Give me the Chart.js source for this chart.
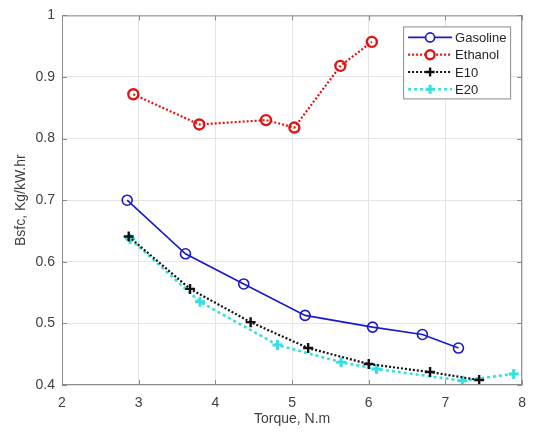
<!DOCTYPE html>
<html>
<head>
<meta charset="utf-8">
<script src="https://cdn.jsdelivr.net/npm/chart.js@4/dist/chart.umd.min.js"></script>
<style>
  html, body { margin: 0; padding: 0; background: #fff; }
  #wrap { width: 536px; height: 433px; position: relative; }
</style>
</head>
<body>
<div id="wrap"><canvas id="bsfcChart"></canvas></div>
<script>
// values
const seriesNames = ['Gasoline', 'Ethanol', 'E10', 'E20'];

const gasolineTorque = [2.85, 3.61, 4.37, 5.17, 6.05, 6.70, 7.17];
const gasolineBsfc   = [0.700, 0.613, 0.564, 0.513, 0.494, 0.482, 0.460];

const ethanolTorque = [2.93, 3.79, 4.66, 5.03, 5.63, 6.04];
const ethanolBsfc   = [0.872, 0.823, 0.830, 0.818, 0.918, 0.957];

const e10Torque = [2.87, 3.67, 4.46, 5.21, 6.00, 6.80, 7.44];
const e10Bsfc   = [0.641, 0.556, 0.502, 0.460, 0.434, 0.421, 0.408];

const e20Torque = [2.89, 3.80, 4.81, 5.64, 6.10, 7.22, 7.89];
const e20Bsfc   = [0.637, 0.535, 0.465, 0.437, 0.426, 0.407, 0.418];

const xTicks = [2, 3, 4, 5, 6, 7, 8];
const yTicks = [0.4, 0.5, 0.6, 0.7, 0.8, 0.9, 1];

function pts(xs, ys) {
  return xs.map(function(x, i) { return { x: x, y: ys[i] }; });
}

const FONT = 'Liberation Sans, Arial, sans-serif';
const AXIS_COLOR = '#8a8a8a';

// box round the plot with inward ticks (matlab style)
const boxPlugin = {
  id: 'boxPlugin',
  afterDatasetsDraw(chart) {
    const ctx = chart.ctx, a = chart.chartArea;
    const sx = chart.scales.x, sy = chart.scales.y;
    ctx.save();
    ctx.strokeStyle = AXIS_COLOR;
    ctx.lineWidth = 1;
    ctx.strokeRect(a.left + 0.5, a.top + 0.5, a.right - a.left - 1, a.bottom - a.top - 1);
    ctx.beginPath();
    xTicks.forEach(function(t) {
      const px = Math.round(sx.getPixelForValue(t)) + 0.5;
      ctx.moveTo(px, a.bottom); ctx.lineTo(px, a.bottom - 5);
      ctx.moveTo(px, a.top); ctx.lineTo(px, a.top + 5);
    });
    yTicks.forEach(function(t) {
      const py = Math.round(sy.getPixelForValue(t)) + 0.5;
      ctx.moveTo(a.left, py); ctx.lineTo(a.left + 5, py);
      ctx.moveTo(a.right, py); ctx.lineTo(a.right - 5, py);
    });
    ctx.stroke();
    ctx.restore();
  }
};

// legend box in the upper right corner
const legendPlugin = {
  id: 'legendBox',
  afterDraw(chart) {
    const ctx = chart.ctx, a = chart.chartArea;
    const bw = 107, bh = 72;
    const bx = a.right - 12 - bw, by = a.top + 11;
    ctx.save();
    ctx.fillStyle = '#fff';
    ctx.fillRect(bx, by, bw, bh);
    ctx.strokeStyle = '#8a8a8a';
    ctx.lineWidth = 1;
    ctx.strokeRect(bx + 0.5, by + 0.5, bw, bh);
    chart.data.datasets.forEach(function(ds, i) {
      const cy = by + 11 + i * 17.3;
      const x0 = bx + 5, x1 = bx + 49;
      ctx.strokeStyle = ds.borderColor;
      ctx.lineWidth = ds.borderWidth;
      ctx.setLineDash(ds.borderDash || []);
      ctx.beginPath();
      ctx.moveTo(x0, cy); ctx.lineTo(x1, cy);
      ctx.stroke();
      ctx.setLineDash([]);
      ctx.lineWidth = ds.pointBorderWidth;
      ctx.strokeStyle = ds.pointBorderColor;
      ctx.fillStyle = '#fff';
      Chart.helpers.drawPoint(ctx, {
        pointStyle: ds.pointStyle,
        radius: 4.5,
        borderWidth: ds.pointBorderWidth
      }, (x0 + x1) / 2, cy);
      ctx.fillStyle = '#262626';
      ctx.font = '13px ' + FONT;
      ctx.textBaseline = 'middle';
      ctx.textAlign = 'left';
      ctx.fillText(ds.label, x1 + 3, cy + 1);
    });
    ctx.restore();
  }
};

new Chart(document.getElementById('bsfcChart'), {
  type: 'scatter',
  data: {
    datasets: [{
      label: seriesNames[0],
      data: pts(gasolineTorque, gasolineBsfc),
      showLine: true,
      borderColor: '#1a1acc',
      backgroundColor: 'rgba(0,0,0,0)',
      borderWidth: 1.6,
      pointStyle: 'circle',
      pointRadius: 5,
      pointBorderWidth: 1.6,
      pointBorderColor: '#1a1acc'
    }, {
      label: seriesNames[1],
      data: pts(ethanolTorque, ethanolBsfc),
      showLine: true,
      borderColor: '#e01414',
      backgroundColor: 'rgba(0,0,0,0)',
      borderWidth: 2.2,
      borderDash: [2, 2],
      pointStyle: 'circle',
      pointRadius: 5,
      pointBorderWidth: 2.4,
      pointBorderColor: '#e01414'
    }, {
      label: seriesNames[2],
      data: pts(e10Torque, e10Bsfc),
      showLine: true,
      borderColor: '#111',
      backgroundColor: 'rgba(0,0,0,0)',
      borderWidth: 2.2,
      borderDash: [2, 2],
      pointStyle: 'cross',
      pointRadius: 5,
      pointBorderWidth: 2.4,
      pointBorderColor: '#111'
    }, {
      label: seriesNames[3],
      data: pts(e20Torque, e20Bsfc),
      showLine: true,
      borderColor: '#36e0e0',
      backgroundColor: 'rgba(0,0,0,0)',
      borderWidth: 2.6,
      borderDash: [3, 3],
      pointStyle: 'cross',
      pointRadius: 5,
      pointBorderWidth: 3,
      pointBorderColor: '#36e0e0'
    }]
  },
  options: {
    responsive: true,
    maintainAspectRatio: false,
    animation: false,
    layout: { padding: { left: 0, top: 12, right: 4, bottom: 0 } },
    plugins: {
      legend: { display: false },
      tooltip: { enabled: false }
    },
    scales: {
      x: {
        type: 'linear',
        min: 2, max: 8,
        afterFit: function(s) { s.height = 48; },
        afterBuildTicks: function(s) { s.ticks = xTicks.map(function(v) { return { value: v }; }); },
        grid: { color: '#e4e4e4', drawTicks: false },
        border: { display: false },
        ticks: {
          color: '#404040', padding: 10,
          font: { family: FONT, size: 14 }
        },
        title: {
          display: true, text: 'Torque, N.m', color: '#404040',
          font: { family: FONT, size: 14 },
          padding: { top: 0, bottom: 5 }
        }
      },
      y: {
        type: 'linear',
        min: 0.4, max: 1,
        afterFit: function(s) { s.width = 62; },
        afterBuildTicks: function(s) { s.ticks = yTicks.map(function(v) { return { value: v }; }); },
        grid: { color: '#e4e4e4', drawTicks: false },
        border: { display: false },
        ticks: {
          color: '#404040', padding: 7,
          font: { family: FONT, size: 14 },
          callback: function(v) { return v === 1 ? '1' : v.toFixed(1); }
        },
        title: {
          display: true, text: 'Bsfc, Kg/kW.hr', color: '#404040',
          font: { family: FONT, size: 14 },
          padding: { top: 13, bottom: 0 }
        }
      }
    }
  },
  plugins: [boxPlugin, legendPlugin]
});
</script>
</body>
</html>
